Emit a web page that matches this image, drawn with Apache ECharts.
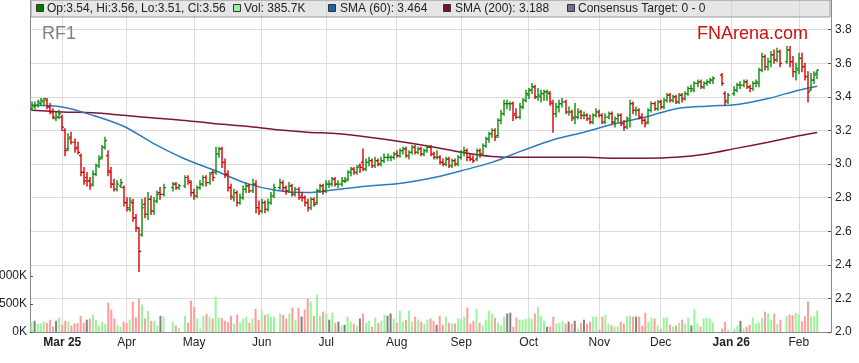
<!DOCTYPE html>
<html><head><meta charset="utf-8">
<script src="https://cdn.jsdelivr.net/npm/echarts@6/dist/echarts.min.js"></script>
<style>html,body{margin:0;padding:0;background:#fff}#c{width:859px;height:363px}</style>
</head><body><div id="c"></div>
<script>
// ---- DATA ----
const firstDay = '2025-02-17';
const lastDay = '2026-02-16';
// one row per weekday [open, high, low, close]; null = market holiday
const ohlc = [
[3.33,3.37,3.32,3.35],[3.34,3.37,3.33,3.35],[3.35,3.38,3.34,3.37],[3.36,3.39,3.35,3.38],[3.37,3.39,3.35,3.39],
[3.38,3.39,3.33,3.34],[3.34,3.36,3.30,3.31],[3.31,3.33,3.27,3.28],[3.27,3.31,3.26,3.28],[3.28,3.32,3.27,3.30],
[3.28,3.29,3.20,3.22],[3.20,3.21,3.05,3.08],[3.09,3.18,3.08,3.15],[3.16,3.19,3.12,3.13],[3.13,3.15,3.07,3.09],
[3.10,3.13,3.06,3.07],[3.05,3.06,2.93,2.95],[2.95,2.98,2.88,2.90],[2.92,2.95,2.87,2.90],[2.90,2.92,2.85,2.87],
[2.88,2.96,2.87,2.94],[2.94,3.00,2.93,2.99],[2.99,3.05,2.98,3.03],[3.04,3.11,3.03,3.10],[3.10,3.16,3.09,3.14],
[3.05,3.08,2.93,2.96],[2.95,2.98,2.86,2.88],[2.88,2.91,2.84,2.85],[2.85,2.90,2.84,2.88],[2.87,2.91,2.86,2.89],
[2.86,2.87,2.75,2.77],[2.77,2.80,2.72,2.74],[2.73,2.80,2.72,2.78],[2.77,2.79,2.66,2.68],[2.68,2.70,2.60,2.62],
[2.62,2.62,2.36,2.48],[2.58,2.79,2.57,2.74],[2.76,2.80,2.68,2.70],[2.70,2.83,2.67,2.79],[2.79,2.81,2.70,2.72],
[2.72,2.80,2.70,2.78],[2.78,2.84,2.77,2.82],[2.83,2.86,2.79,2.82],[2.82,2.88,2.81,2.86],null,
null,[2.86,2.89,2.84,2.88],[2.88,2.89,2.85,2.86],[2.86,2.88,2.85,2.87],null,
[2.87,2.93,2.86,2.92],[2.92,2.93,2.88,2.90],[2.89,2.90,2.81,2.83],[2.83,2.85,2.79,2.81],[2.81,2.87,2.80,2.86],
[2.86,2.90,2.85,2.88],[2.88,2.93,2.87,2.92],[2.92,2.93,2.87,2.89],[2.89,2.95,2.88,2.94],[2.95,2.96,2.90,2.92],
[2.95,3.10,2.94,3.06],[3.06,3.10,3.04,3.09],[3.09,3.10,2.98,3.01],[3.01,3.03,2.92,2.94],[2.94,2.96,2.84,2.86],
[2.86,2.88,2.79,2.81],[2.80,2.85,2.78,2.83],[2.83,2.84,2.75,2.77],[2.77,2.82,2.76,2.80],[2.80,2.87,2.79,2.85],
[2.85,2.89,2.83,2.87],[2.87,2.88,2.83,2.84],[2.84,2.91,2.83,2.88],[2.88,2.90,2.71,2.74],[2.74,2.78,2.70,2.72],
[2.72,2.79,2.71,2.77],[2.77,2.78,2.71,2.73],[2.73,2.79,2.72,2.77],[2.77,2.83,2.76,2.81],[2.81,2.88,2.80,2.86],
null,[2.86,2.91,2.85,2.89],[2.89,2.90,2.84,2.86],[2.86,2.87,2.82,2.84],[2.84,2.89,2.83,2.87],
[2.87,2.88,2.81,2.82],[2.82,2.86,2.81,2.85],[2.85,2.86,2.79,2.80],[2.81,2.83,2.78,2.80],[2.80,2.81,2.75,2.77],
[2.77,2.79,2.72,2.74],[2.74,2.80,2.73,2.79],[2.79,2.80,2.75,2.76],[2.77,2.85,2.76,2.84],[2.84,2.88,2.83,2.87],
[2.87,2.88,2.82,2.84],[2.84,2.90,2.83,2.88],[2.88,2.90,2.86,2.88],[2.88,2.92,2.87,2.91],[2.91,2.92,2.87,2.88],
[2.88,2.90,2.86,2.88],[2.88,2.92,2.87,2.90],[2.90,2.92,2.89,2.90],[2.91,2.96,2.90,2.95],[2.95,2.98,2.93,2.97],
[2.97,2.98,2.94,2.95],[2.95,2.99,2.94,2.98],[2.99,3.00,2.95,2.98],[3.01,3.09,2.96,2.97],[2.97,3.03,2.96,3.01],
[3.01,3.04,2.99,3.02],[3.02,3.03,2.98,2.99],[2.99,3.04,2.98,3.02],[3.02,3.03,2.99,3.00],[3.00,3.04,2.99,3.02],
[3.02,3.06,3.01,3.04],[3.04,3.06,3.02,3.04],[3.04,3.05,3.02,3.04],[3.04,3.07,3.03,3.06],[3.06,3.08,3.04,3.05],
[3.05,3.09,3.04,3.08],[3.08,3.10,3.06,3.09],[3.09,3.10,3.04,3.05],[3.05,3.08,3.03,3.07],[3.07,3.11,3.06,3.10],
[3.10,3.11,3.06,3.07],[3.07,3.10,3.06,3.09],[3.09,3.10,3.05,3.06],[3.06,3.09,3.05,3.08],[3.08,3.11,3.07,3.10],
[3.10,3.11,3.05,3.06],[3.06,3.07,3.03,3.04],[3.04,3.08,3.03,3.04],[3.04,3.05,3.00,3.01],[3.01,3.03,2.99,3.00],
[3.00,3.04,2.99,3.03],[3.03,3.04,2.98,2.99],[2.99,3.03,2.98,3.02],[3.02,3.03,2.99,3.00],[3.00,3.05,2.99,3.04],
[3.04,3.08,3.03,3.07],[3.07,3.10,3.05,3.08],[3.08,3.09,3.02,3.04],[3.04,3.06,3.02,3.03],[3.03,3.05,3.01,3.02],
[3.03,3.09,3.02,3.08],[3.08,3.09,3.04,3.06],[3.06,3.12,3.05,3.11],[3.11,3.16,3.10,3.15],[3.15,3.19,3.13,3.18],
[3.18,3.21,3.16,3.20],[3.20,3.21,3.14,3.16],[3.17,3.27,3.16,3.26],[3.26,3.32,3.24,3.30],[3.30,3.38,3.29,3.36],
[3.36,3.38,3.33,3.36],[3.36,3.37,3.32,3.36],[3.36,3.37,3.26,3.29],[3.30,3.33,3.27,3.28],[3.28,3.36,3.27,3.34],
[3.34,3.39,3.33,3.38],[3.38,3.44,3.37,3.42],[3.41,3.45,3.39,3.44],[3.44,3.48,3.42,3.46],[3.46,3.47,3.39,3.40],
[3.40,3.45,3.38,3.41],[3.40,3.44,3.37,3.42],[3.42,3.44,3.38,3.43],[3.43,3.44,3.38,3.43],[3.42,3.43,3.35,3.37],
[3.36,3.38,3.19,3.30],[3.30,3.36,3.28,3.34],[3.34,3.38,3.31,3.36],[3.36,3.39,3.34,3.37],[3.37,3.38,3.30,3.31],
[3.31,3.34,3.29,3.31],[3.31,3.32,3.26,3.28],[3.27,3.36,3.24,3.28],[3.28,3.33,3.27,3.31],[3.31,3.32,3.27,3.29],
[3.29,3.31,3.27,3.29],[3.29,3.30,3.26,3.27],[3.27,3.29,3.24,3.25],[3.25,3.30,3.24,3.29],[3.29,3.33,3.28,3.31],
[3.31,3.32,3.28,3.29],[3.29,3.30,3.24,3.25],[3.25,3.30,3.24,3.28],[3.28,3.31,3.27,3.30],[3.30,3.31,3.24,3.25],
[3.25,3.28,3.22,3.27],[3.27,3.30,3.25,3.29],[3.29,3.30,3.23,3.24],[3.24,3.26,3.20,3.22],[3.22,3.28,3.21,3.27],
[3.27,3.38,3.22,3.36],[3.36,3.37,3.30,3.32],[3.32,3.34,3.29,3.32],[3.32,3.33,3.27,3.28],[3.28,3.30,3.24,3.26],
[3.26,3.27,3.22,3.24],[3.25,3.33,3.24,3.32],[3.32,3.37,3.31,3.36],[3.36,3.37,3.32,3.33],[3.33,3.38,3.32,3.37],
[3.37,3.38,3.33,3.34],[3.34,3.39,3.33,3.38],[3.38,3.42,3.37,3.41],[3.41,3.42,3.37,3.38],[3.38,3.41,3.37,3.40],
[3.40,3.41,3.36,3.37],[3.37,3.42,3.36,3.41],[3.41,3.42,3.37,3.39],[3.39,3.43,3.38,3.42],[3.42,3.46,3.41,3.45],
[3.45,3.47,3.43,3.45],[3.44,3.49,3.43,3.48],[3.48,3.50,3.46,3.49],[3.49,3.50,3.45,3.46],[3.46,3.49,3.45,3.48],
[3.48,3.50,3.47,3.49],[3.49,3.51,3.48,3.50],[3.50,3.52,3.48,3.51],null,null,
[3.53,3.54,3.47,3.48],[3.42,3.43,3.35,3.37],[3.38,3.42,3.36,3.41],null,[3.42,3.46,3.41,3.44],
[3.44,3.48,3.43,3.47],[3.47,3.49,3.45,3.47],[3.47,3.50,3.46,3.49],[3.49,3.50,3.45,3.46],[3.46,3.47,3.43,3.45],
[3.45,3.49,3.44,3.48],[3.48,3.50,3.46,3.49],[3.48,3.57,3.46,3.56],[3.56,3.66,3.55,3.64],[3.64,3.65,3.56,3.58],
[3.58,3.63,3.56,3.61],[3.61,3.67,3.58,3.65],[3.65,3.68,3.60,3.62],[3.62,3.69,3.61,3.67],[3.67,3.68,3.58,3.60],
null,[3.61,3.70,3.60,3.68],[3.68,3.70,3.58,3.61],[3.61,3.64,3.52,3.55],[3.55,3.60,3.50,3.57],
[3.56,3.66,3.54,3.63],[3.63,3.66,3.55,3.58],[3.58,3.60,3.50,3.52],[3.52,3.55,3.37,3.43],[3.44,3.54,3.44,3.50],
[3.50,3.55,3.48,3.53],[3.54,3.56,3.51,3.56]
];
// volume in thousands, one per weekday
const volumeK = [
180,200,150,150,185, 165,220,95,200,255, 130,200,185,115,155, 155,290,165,220,240,
310,220,115,185,150, 525,400,240,130,95, 185,165,220,540,260, 595,490,240,380,200,
200,115,290,275,null, null,185,115,75,null, 290,165,560,450,240, 60,290,325,275,240,
630,255,255,200,175, 290,150,310,165,240, 275,165,240,415,220, 380,310,330,275,275,
null,330,310,240,330, 435,220,435,275,400, 595,540,290,665,290, 365,330,220,345,165,
185,115,130,275,185, 150,115,240,330,165, 200,95,255,165,200, 310,290,330,240,165,
380,185,220,380,185, 275,220,185,150,220, 240,200,130,290,130, 275,165,150,150,240,
240,275,435,150,200, 415,165,115,220,380, 330,255,165,115,275, 330,345,95,255,220,
220,240,255,240,330, 450,290,200,95,95, 275,150,165,200,150, 185,150,200,60,165,
220,150,185,275,275, 40,275,310,150,115, 95,95,185,150,275, 290,275,275,275,115,
345,185,255,240,115, 60,255,255,130,95, 115,165,220,150,255, 115,400,150,95,240,
255,240,165,null,null, 60,185,40,null,60, 115,200,60,95,130, 255,150,165,255,365,
330,220,330,150,220, null,290,310,300,340, 310,190,280,545,280, 280,386
];
// moving averages at these weekday positions
const smaIndex = [0,10,20,30,40,50,60,70,80,90,100,110,120,130,140,150,160,170,180,190,200,210,220,230,240,250,256];
const sma60  = [3.35,3.34,3.29,3.225,3.12,3.03,2.96,2.885,2.843,2.83,2.85,2.87,2.885,2.915,2.96,3.01,3.08,3.145,3.19,3.24,3.28,3.33,3.345,3.355,3.39,3.44,3.464];
const sma200 = [3.32,3.31,3.305,3.29,3.275,3.26,3.24,3.225,3.205,3.19,3.18,3.16,3.135,3.105,3.07,3.045,3.04,3.04,3.04,3.035,3.035,3.04,3.06,3.095,3.13,3.168,3.188];
const priceMin = 2.0, priceStep = 0.2;
const volumeTicks = [0, 500, 1000];
const legendTexts = ['Op:3.54, Hi:3.56, Lo:3.51, Cl:3.56', 'Vol: 385.7K', 'SMA (60): 3.464', 'SMA (200): 3.188', 'Consensus Target: 0 - 0'];
const monthNames = ['Jan','Feb','Mar','Apr','May','Jun','Jul','Aug','Sep','Oct','Nov','Dec'];

// ---- BUILD ----
function weekdays(s, e) {
  const out = []; let d = new Date(s + 'T00:00:00Z'); const end = new Date(e + 'T00:00:00Z');
  while (d <= end) { const w = d.getUTCDay(); if (w > 0 && w < 6) out.push(d.toISOString().slice(0, 10)); d = new Date(d.getTime() + 86400000); }
  return out;
}
const cats = weekdays(firstDay, lastDay);
const monthStart = new Set();
for (let i = 1; i < cats.length; i++) if (cats[i].slice(5, 7) !== cats[i - 1].slice(5, 7)) monthStart.add(i);
const firstLabel = Math.min(...monthStart);
const isMonth = (idx) => monthStart.has(idx);

const FONT = '"Liberation Sans", Arial, sans-serif';
const UP = '#0a8a0a', DOWN = '#d40000';
const VUP = '#9af59a', VDOWN = '#ff9c9c', VFLAT = '#808080';

const barData = [];
ohlc.forEach((r, i) => { if (r) barData.push([i, r[0], r[1], r[2], r[3]]); });

let prevClose = null;
const volData = volumeK.map((v, i) => {
  const r = ohlc[i];
  if (v == null || !r) return '-';
  let col = VUP;
  if (prevClose != null) col = r[3] > prevClose ? VUP : (r[3] < prevClose ? VDOWN : VFLAT);
  prevClose = r[3];
  return { value: v, itemStyle: { color: col } };
});

const chart = echarts.init(document.getElementById('c'), null, { renderer: 'canvas' });
const legendItems = [
  { sx: 36, tx: 47, color: '#007a00' },
  { sx: 233, tx: 244, color: '#98f098' },
  { sx: 328, tx: 340, color: '#1f64a8' },
  { sx: 443, tx: 455, color: '#7d0f2c' },
  { sx: 567, tx: 578, color: '#6f6f8f' }
];
const graphic = [
  { type: 'rect', z: 100, shape: { x: 31, y: 0, width: 799, height: 17 }, style: { fill: 'rgba(205,205,205,0.5)', stroke: '#9a9a9a', lineWidth: 1 } }
];
legendItems.forEach((it, k) => {
  graphic.push({ type: 'rect', z: 101, shape: { x: it.sx + 0.5, y: 4.5, width: 7, height: 7 }, style: { fill: it.color, stroke: '#333', lineWidth: 1 } });
  graphic.push({ type: 'text', z: 101, x: it.tx, y: 9, style: { text: legendTexts[k], fill: '#222', fontSize: 12, fontFamily: FONT, verticalAlign: 'middle' } });
});
graphic.push({ type: 'text', z: 101, x: 42, y: 34, style: { text: 'RF1', fill: '#808080', fontSize: 18, fontFamily: FONT, verticalAlign: 'middle' } });
graphic.push({ type: 'text', z: 101, x: 697, y: 34, style: { text: 'FNArena.com', fill: '#cc1111', fontSize: 18, fontFamily: FONT, verticalAlign: 'middle' } });

const option = {
  animation: false,
  backgroundColor: '#fff',
  textStyle: { fontFamily: FONT },
  grid: { left: 30, right: 28, top: 0, bottom: 31, containLabel: false, outerBoundsMode: 'none' },
  xAxis: {
    type: 'category', data: cats, boundaryGap: true,
    axisLine: { lineStyle: { color: '#888' } },
    axisTick: { interval: isMonth, alignWithLabel: true, length: 3, lineStyle: { color: '#555' } },
    splitLine: { show: true, interval: isMonth, alignWithLabel: true, lineStyle: { color: '#dcdcdc' } },
    axisLabel: {
      interval: isMonth, margin: 5, fontSize: 12, color: '#222', fontFamily: FONT,
      formatter: (value, index) => {
        const y = value.slice(2, 4), m = +value.slice(5, 7);
        const name = monthNames[m - 1];
        if (m === 1 || index === firstLabel) return '{b|' + name + ' ' + y + '}';
        return name;
      },
      rich: { b: { fontWeight: 'bold', fontSize: 12, color: '#222', fontFamily: FONT } }
    }
  },
  yAxis: [
    {
      type: 'value', position: 'right', min: priceMin, max: 3.977, interval: priceStep,
      axisLine: { show: true, lineStyle: { color: '#888' } },
      axisTick: { show: true, inside: true, length: 3, lineStyle: { color: '#555' } },
      splitLine: { show: true, lineStyle: { color: '#dcdcdc' } },
      axisLabel: { showMaxLabel: false, margin: 4, fontSize: 12, color: '#222', fontFamily: FONT, formatter: v => v.toFixed(1) }
    },
    {
      type: 'value', position: 'left', min: 0, max: 5930, interval: 500,
      axisLine: { show: true, lineStyle: { color: '#888' } },
      axisTick: { show: true, inside: true, length: 3, customValues: volumeTicks, lineStyle: { color: '#555' } },
      splitLine: { show: false },
      axisLabel: { customValues: volumeTicks, margin: 3, fontSize: 12, color: '#222', fontFamily: FONT, formatter: v => v + 'K' }
    }
  ],
  series: [
    { type: 'bar', yAxisIndex: 1, data: volData, barWidth: 2, z: 1, silent: true },
    { type: 'line', yAxisIndex: 0, data: smaIndex.map((ix, k) => [ix, sma200[k]]), smooth: 0.3, showSymbol: false, lineStyle: { color: '#7d1538', width: 1.5 }, z: 2 },
    { type: 'line', yAxisIndex: 0, data: smaIndex.map((ix, k) => [ix, sma60[k]]), smooth: 0.3, showSymbol: false, lineStyle: { color: '#2a7bbf', width: 1.5 }, z: 2 },
    {
      type: 'custom', yAxisIndex: 0, z: 3, data: barData, encode: { x: 0, y: [1, 2, 3, 4] },
      renderItem: (params, api) => {
        const i = api.value(0), o = api.value(1), h = api.value(2), l = api.value(3), c = api.value(4);
        const ph = api.coord([i, h]), pl = api.coord([i, l]), po = api.coord([i, o]), pc = api.coord([i, c]);
        const x = Math.round(ph[0]);
        const col = c >= o ? UP : DOWN;
        return { type: 'group', children: [
          { type: 'line', shape: { x1: x, y1: ph[1] - 0.5, x2: x, y2: pl[1] + 0.5 }, style: { stroke: col, lineWidth: 1.4 } },
          { type: 'line', shape: { x1: x - 2, y1: po[1], x2: x, y2: po[1] }, style: { stroke: col, lineWidth: 1.2 } },
          { type: 'line', shape: { x1: x, y1: pc[1], x2: x + 2, y2: pc[1] }, style: { stroke: col, lineWidth: 1.2 } }
        ] };
      }
    }
  ],
  graphic: graphic
};
chart.setOption(option);
</script>
</body></html>
